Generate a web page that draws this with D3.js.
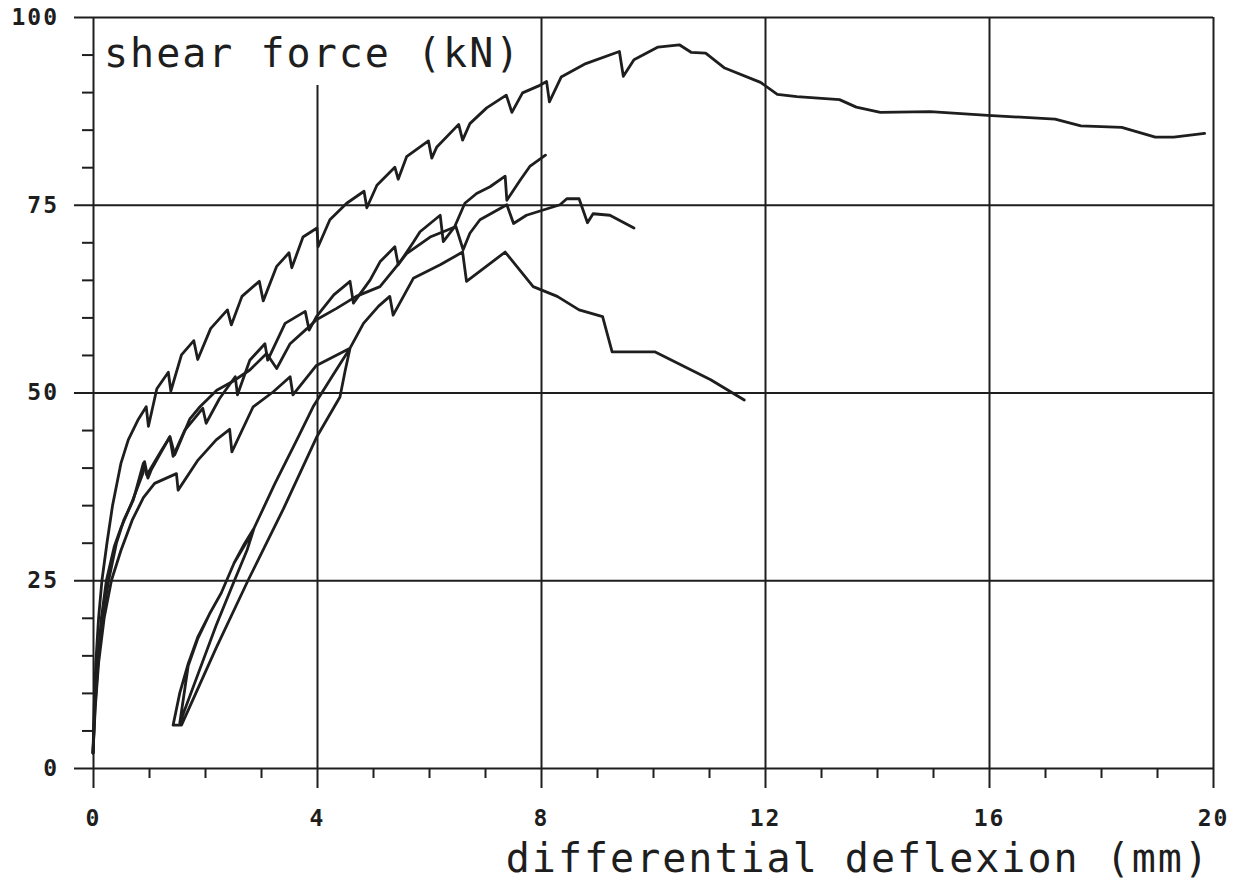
<!DOCTYPE html>
<html>
<head>
<meta charset="utf-8">
<script src="https://cdn.jsdelivr.net/npm/d3@7"></script>
<style>
    body { margin: 0; background: #ffffff; }
    #chart { width: 1250px; height: 884px; }
    .axis text {
        font-family: "DejaVu Sans Mono", monospace;
        font-weight: bold;
        font-size: 23px;
        letter-spacing: 2px;
        fill: #1e1e1e;
    }
    .axis line { stroke: #1e1e1e; stroke-width: 2px; }
    .axisLabel {
        font-family: "DejaVu Sans Mono", monospace;
        font-size: 40px;
        letter-spacing: 2px;
        fill: #1e1e1e;
    }
</style>
</head>
<body>
<div id="chart"></div>
<script>

/* DATA: [differential deflexion (mm), shear force (kN)] */

const curveA = [
    [0, 2], [0.02, 8], [0.05, 14], [0.1, 20], [0.16, 25], [0.25, 30], [0.35, 35],
    [0.5, 40.6], [0.63, 43.7], [0.8, 46.3], [0.95, 48.1], [0.99, 45.5], [1.14, 50.5],
    [1.345, 52.7], [1.39, 50.2], [1.58, 55], [1.8, 56.9], [1.87, 54.4], [2.1, 58.5],
    [2.4, 61], [2.47, 59], [2.66, 62.8], [2.97, 64.8], [3.04, 62.2], [3.28, 66.8],
    [3.5, 68.6], [3.55, 66.6], [3.75, 70.7], [4.0, 71.9], [4.02, 69.4], [4.23, 73],
    [4.53, 75.2], [4.84, 76.8], [4.89, 74.6], [5.07, 77.6], [5.39, 80], [5.45, 78.4],
    [5.6, 81.4], [5.99, 83.5], [6.05, 81.2], [6.14, 82.7], [6.53, 85.7], [6.6, 83.6],
    [6.73, 85.8], [7.03, 87.9], [7.38, 89.6], [7.48, 87.3], [7.67, 89.9], [7.98, 90.9],
    [8.1, 91.4], [8.15, 88.7], [8.36, 92], [8.8, 93.8], [9.4, 95.4], [9.47, 92.1],
    [9.66, 94.3], [10.09, 96], [10.47, 96.3], [10.68, 95.3], [10.94, 95.2], [11.28, 93.2],
    [11.92, 91.3], [12.22, 89.7], [12.57, 89.4], [13.33, 89], [13.63, 88], [14.06, 87.3],
    [14.95, 87.4], [15.98, 86.9], [17.18, 86.4], [17.64, 85.5], [18.37, 85.3], [18.97, 84],
    [19.3, 84], [19.85, 84.5]
];

const curveB = [
    [0, 2], [0.03, 8], [0.08, 14], [0.15, 20], [0.24, 25], [0.38, 29.5], [0.5, 32],
    [0.685, 35.2], [0.89, 39.2], [0.92, 40.8], [0.98, 38.6], [1.04, 39.7], [1.37, 44.1],
    [1.43, 41.5], [1.64, 45], [1.96, 47.9], [2.02, 45.9], [2.26, 49.2], [2.54, 52.1],
    [2.58, 49.7], [2.8, 54.3], [3.07, 56.5], [3.12, 54.3], [3.43, 59.2], [3.79, 60.8],
    [3.86, 58.3], [3.99, 60.1], [4.3, 63], [4.59, 64.8], [4.65, 61.9], [4.95, 65],
    [5.125, 67.4], [5.39, 69.4], [5.45, 67], [5.72, 70], [5.84, 71.4], [6.2, 73.6],
    [6.255, 70.1], [6.46, 72.1], [6.64, 75.2], [6.85, 76.5], [7.09, 77.4], [7.36, 78.8],
    [7.39, 75.6], [7.63, 78.3], [7.8, 80.1], [8.08, 81.6]
];

const curveC = [
    [0, 2], [0.035, 8], [0.09, 14], [0.17, 20], [0.28, 25], [0.42, 30], [0.55, 33],
    [0.72, 35.7], [0.9, 40.6], [0.96, 39], [1.2, 42], [1.375, 44.1], [1.46, 41.7],
    [1.73, 46.5], [1.91, 48.1], [2.21, 50.3], [2.5, 51.5], [2.8, 53], [3.1, 55.2],
    [3.28, 53.2], [3.52, 56.5], [3.82, 58.5], [3.99, 59.7], [4.35, 61.2], [4.7, 62.8],
    [5.125, 64.1], [5.42, 66.8], [5.6, 68.5], [6.02, 70.7], [6.32, 71.6], [6.48, 72.1],
    [6.61, 69], [6.73, 71.2], [6.91, 73], [7.39, 75], [7.51, 72.5], [7.74, 73.6],
    [8.04, 74.3], [8.34, 75], [8.46, 75.8], [8.68, 75.8], [8.83, 72.6], [8.93, 73.8],
    [9.23, 73.6], [9.66, 71.9]
];

// specimen with two unload / reload cycles
const curveD = [
    [0, 2], [0.04, 8], [0.1, 14], [0.2, 20], [0.33, 25], [0.5, 29], [0.7, 33], [0.9, 36],
    [1.1, 37.9], [1.49, 39.2], [1.52, 37], [1.875, 41], [2.2, 43.7], [2.44, 45.1],
    [2.48, 42.1], [2.86, 48.1], [3.22, 50.1], [3.52, 52.1], [3.57, 49.7], [3.99, 53.6],
    [4.59, 55.9],
    [4.5, 52.8], [4.41, 49.4], [3.99, 44], [3.4, 34.5], [2.77, 25], [2.2, 16],
    [1.58, 5.7], [1.43, 5.7],
    [1.55, 10], [1.7, 13.9], [1.875, 17.5], [2.08, 20.5], [2.29, 23.3], [2.52, 27.3],
    [2.7, 29.8], [2.88, 32],
    [2.75, 29], [2.5, 24.5], [2.2, 19], [1.9, 13], [1.55, 6],
    [1.7, 13.6], [1.875, 17.3], [2.08, 20.5], [2.29, 23.3], [2.52, 27.3], [2.83, 31.2],
    [3.25, 37.9], [3.64, 43.7], [3.93, 48.1], [4.3, 52.5], [4.59, 55.9],
    [4.83, 59.2], [5.1, 61.5], [5.3, 62.8], [5.36, 60.3], [5.72, 65.2], [6.2, 67],
    [6.6, 68.7], [6.67, 64.8], [7.36, 68.7], [7.86, 64.1], [8.29, 62.8], [8.68, 61],
    [9.1, 60.1], [9.27, 55.4], [10.04, 55.4], [11.03, 51.7], [11.63, 49]
];

const curves = [curveA, curveB, curveC, curveD];

const xTicksMajor = [0, 4, 8, 12, 16, 20];
const xTicksMinor = [1, 2, 3, 5, 6, 7, 9, 10, 11, 13, 14, 15, 17, 18, 19];
const yTicksMajor = [0, 25, 50, 75, 100];
const yTicksMinor = [5, 10, 15, 20, 30, 35, 40, 45, 55, 60, 65, 70, 80, 85, 90, 95];

const yTitle = "shear force (kN)";
const xTitle = "differential deflexion (mm)";

const width = 1250;
const height = 884;
const margin = {top: 17, left: 93, right: 37, bottom: 116};

const svg = d3.select("#chart")
    .append("svg")
    .attr("width", width)
    .attr("height", height);

/* SCALES */

const xScale = d3.scaleLinear()
    .domain([0, 20])
    .range([margin.left, width - margin.right]);

const yScale = d3.scaleLinear()
    .domain([0, 100])
    .range([height - margin.bottom, margin.top]);

const plotW = width - margin.left - margin.right;
const plotH = height - margin.top - margin.bottom;

/* TITLE inside the frame (the 4 mm grid line stops below it) */

const titleBaseline = margin.top + 50;

svg.append("text")
    .attr("class", "axisLabel")
    .attr("x", margin.left + 11)
    .attr("y", titleBaseline)
    .text(yTitle);

/* AXES + GRID: major ticks stretched across the plot */

const yAxis = svg.append("g")
    .attr("class", "axis")
    .attr("transform", `translate(${margin.left},0)`)
    .call(d3.axisLeft(yScale).tickValues(yTicksMajor).tickSize(19).tickPadding(15));

yAxis.select(".domain").remove();
yAxis.selectAll(".tick line").attr("x1", plotW);

const yMinor = svg.append("g")
    .attr("class", "axis")
    .attr("transform", `translate(${margin.left},0)`)
    .call(d3.axisLeft(yScale).tickValues(yTicksMinor).tickSize(11).tickFormat(""));

yMinor.select(".domain").remove();

const xAxis = svg.append("g")
    .attr("class", "axis")
    .attr("transform", `translate(0,${height - margin.bottom})`)
    .call(d3.axisBottom(xScale).tickValues(xTicksMajor).tickSize(20).tickPadding(22));

xAxis.select(".domain").remove();
xAxis.selectAll(".tick line")
    .attr("y1", function(d) {
        if (d === 4) return -(height - margin.bottom - titleBaseline - 18);
        return -plotH;
    });

const xMinor = svg.append("g")
    .attr("class", "axis")
    .attr("transform", `translate(0,${height - margin.bottom})`)
    .call(d3.axisBottom(xScale).tickValues(xTicksMinor).tickSize(10).tickFormat(""));

xMinor.select(".domain").remove();

/* CURVES */

const line = d3.line()
    .x(function(d) { return xScale(d[0]); })
    .y(function(d) { return yScale(d[1]); });

svg.selectAll(".curve")
    .data(curves)
    .enter()
    .append("path")
        .attr("class", "curve")
        .attr("d", line)
        .attr("fill", "none")
        .attr("stroke", "#1e1e1e")
        .attr("stroke-width", 2.8)
        .attr("stroke-linejoin", "round")
        .attr("stroke-linecap", "round");

/* X AXIS LABEL */

svg.append("text")
    .attr("class", "axisLabel")
    .attr("x", xScale(20) - 3)
    .attr("y", height - 12)
    .attr("text-anchor", "end")
    .text(xTitle);

</script>
</body>
</html>
